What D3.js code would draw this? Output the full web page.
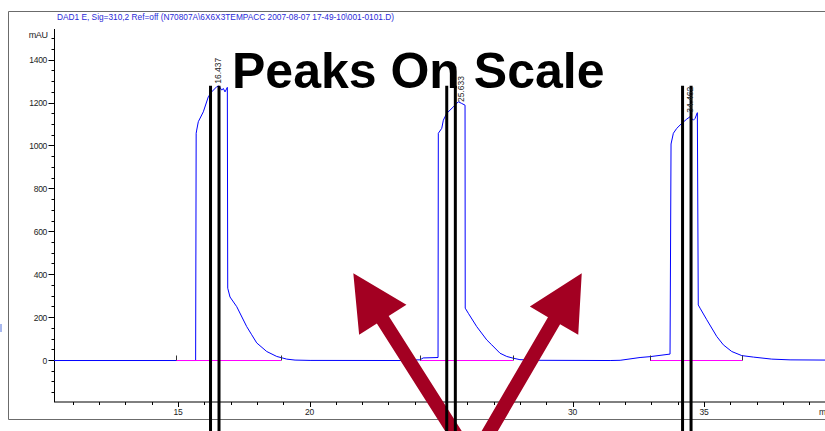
<!DOCTYPE html>
<html><head><meta charset="utf-8">
<script src="https://cdn.jsdelivr.net/npm/d3@7"></script>
<style>body{margin:0;background:#fff}svg{display:block}text{font-family:"Liberation Sans",Arial,sans-serif}</style>
</head><body>
<svg id="c" width="825" height="431"></svg>
<script>
// ---- data ----
const headerText = "DAD1 E, Sig=310,2 Ref=off (N70807A\\6X6X3TEMPACC 2007-08-07 17-49-10\\001-0101.D)";
const chartTitle = "Peaks On Scale";
const yUnit = "mAU";
const xUnit = "min";
const xTickLabels = [15, 20, 25, 30, 35];
const yTickLabels = [0, 200, 400, 600, 800, 1000, 1200, 1400];
// signal trace: [time (min), absorbance (mAU)]
const traceTime = [10.285,14.924,15.67,15.69,15.711,15.772,15.962,16.152,16.281,16.471,16.559,16.662,16.722,16.787,16.875,16.89,16.977,17.232,17.612,17.802,17.992,18.373,18.753,19.133,19.45,20.02,23.44,23.51,24.2,24.32,24.886,24.897,25.027,25.088,25.217,25.468,25.658,25.787,25.913,25.92,26.038,26.357,26.738,26.928,27.243,27.498,27.738,28.0,28.76,31.43,31.81,32.567,32.947,33.707,33.745,33.833,33.962,34.152,34.342,34.468,34.593,34.658,34.745,34.78,34.848,35.103,35.483,35.734,36.053,36.433,36.875,37.574,38.27,39.79];
const traceValue = [0,0,0,1059,1074,1113,1159,1229,1252,1276,1279,1260,1268,1252,1273,337,296,251,158,120,82,42,19,6.5,2,0.5,0,2,3,12,14,1059,1082,1120,1152,1182,1206,1198,1190,244,220,158,96,73,34,19,11,4,1,0,1,14,18,30,1009,1059,1082,1105,1125,1136,1120,1128,1155,259,244,190,112,73,42,23,16,6.5,3,2];
// integration baselines per peak: start/end time, level
const peakStart = [14.924, 24.2, 32.947];
const peakEnd = [18.916, 27.738, 36.456];
const baseLevel = [0, 2, 2];
const peakLabels = ["16.437", "25.633", "34.462"];
const peakLabelTime = [16.65, 25.87, 34.57];
const peakLabelBase = [1290, 1205, 1155];
// annotation cut lines (time) and their top (mAU)
const cutLines = [16.236, 16.559, 25.217, 25.544, 34.183, 34.506];
const cutTop = 1280;
// arrows: tail -> tip in (min, mAU)
const arrowTail = [[25.80, -392], [26.55, -392]];
const arrowTip = [[21.665, 407], [30.35, 407]];

// ---- scales ----
const svg = d3.select("#c");
const x = d3.scaleLinear().domain([10.285, 39.8]).range([54, 830.3]);
const y = d3.scaleLinear().domain([-191, 1545]).range([401.5, 29]);
const py0 = v => Math.round(y(v) - 0.5) + 0.5;

// frame
svg.append("path").attr("d","M830,11.5H8.5V419.5H830").attr("fill","none").attr("stroke","#6b6b6b").attr("stroke-width",1);
svg.append("rect").attr("x",0).attr("y",324).attr("width",2).attr("height",8).attr("fill","#a8b8ee");

// header
svg.append("text").attr("x",57).attr("y",19.7).attr("font-size",9.5).attr("fill","#2a2ad8")
  .attr("textLength",337).attr("lengthAdjust","spacingAndGlyphs").text(headerText);

// y axis
const gy = svg.append("g");
gy.append("line").attr("x1",54.5).attr("x2",54.5).attr("y1",29).attr("y2",402).attr("stroke","#000");
d3.range(-150, 1501, 50).forEach(v=>{
  const major = v % 200 === 0;
  gy.append("line").attr("x1",54.5).attr("x2",major?48.5:51.5).attr("y1",py0(v)).attr("y2",py0(v)).attr("stroke","#000");
});
yTickLabels.forEach(v=>{
  gy.append("text").attr("x",47).attr("y",y(v)+3).attr("text-anchor","end").attr("font-size",8.5).attr("fill","#222").attr("letter-spacing",-0.3).text(v);
});
gy.append("text").attr("x",47.5).attr("y",37.5).attr("text-anchor","end").attr("font-size",9).attr("fill","#222").attr("letter-spacing",-0.4).text(yUnit);

// x axis
const gx = svg.append("g");
gx.append("line").attr("x1",54).attr("x2",830).attr("y1",402).attr("y2",402).attr("stroke","#000");
d3.range(11, 40, 1).forEach(t=>{
  const major = t % 5 === 0;
  gx.append("line").attr("x1",Math.round(x(t))+0.5).attr("x2",Math.round(x(t))+0.5).attr("y1",402).attr("y2",major?407:405).attr("stroke","#000");
});
xTickLabels.forEach(t=>{
  gx.append("text").attr("x",x(t)).attr("y",415).attr("text-anchor","middle").attr("font-size",8.5).attr("fill","#222").attr("letter-spacing",-0.3).text(t);
});
gx.append("text").attr("x",819).attr("y",415).attr("font-size",8.5).attr("fill","#222").text(xUnit);

// trace
const pts = traceTime.map((t,i)=>[t, traceValue[i]]);
svg.append("path").datum(pts).attr("fill","none").attr("stroke","#0000ff").attr("stroke-width",1)
  .attr("d", d3.line().x(d=>x(d[0])).y(d=>y(d[1])));

// integration baselines (magenta), over the trace
peakStart.forEach((s,i)=>{
  svg.append("line").attr("x1",x(s)).attr("x2",x(peakEnd[i])).attr("y1",py0(baseLevel[i])).attr("y2",py0(baseLevel[i])).attr("stroke","#ff00ff").attr("stroke-width",1);
});

// peak start/end markers
peakStart.concat(peakEnd).forEach((t,k)=>{
  const lvl = baseLevel[k % 3];
  svg.append("line").attr("x1",Math.round(x(t))+0.5).attr("x2",Math.round(x(t))+0.5).attr("y1",py0(lvl)).attr("y2",py0(lvl)-5).attr("stroke","#333").attr("stroke-width",1);
});

// arrows
const arrowColor = "#a30022";
arrowTip.forEach((tip,i)=>{
  const tx=x(tip[0]), ty=y(tip[1]), bx=x(arrowTail[i][0]), by=y(arrowTail[i][1]);
  const L=Math.hypot(bx-tx,by-ty), ux=(bx-tx)/L, uy=(by-ty)/L, px=-uy, py=ux;
  const hl=55, hw=28, sw=7;
  const hx=tx+ux*hl, hy=ty+uy*hl;
  const p=[[tx,ty],[hx+px*hw,hy+py*hw],[hx+px*sw,hy+py*sw],[bx+px*sw,by+py*sw],[bx-px*sw,by-py*sw],[hx-px*sw,hy-py*sw],[hx-px*hw,hy-py*hw]];
  svg.append("path").attr("d","M"+p.map(q=>q.join(",")).join("L")+"Z").attr("fill",arrowColor);
});

// cut lines
cutLines.forEach(t=>{
  svg.append("line").attr("x1",x(t)).attr("x2",x(t)).attr("y1",y(cutTop)).attr("y2",431).attr("stroke","#000").attr("stroke-width",3);
});

// peak labels
peakLabels.forEach((l,i)=>{
  svg.append("text").attr("transform",`translate(${x(peakLabelTime[i])},${y(peakLabelBase[i])}) rotate(-90)`)
    .attr("font-size",8.5).attr("fill","#222").text(l);
});

// title
svg.append("text").attr("x",232).attr("y",87.5).attr("font-size",50).attr("font-weight","bold").attr("fill","#000").text(chartTitle);
</script>
</body></html>
